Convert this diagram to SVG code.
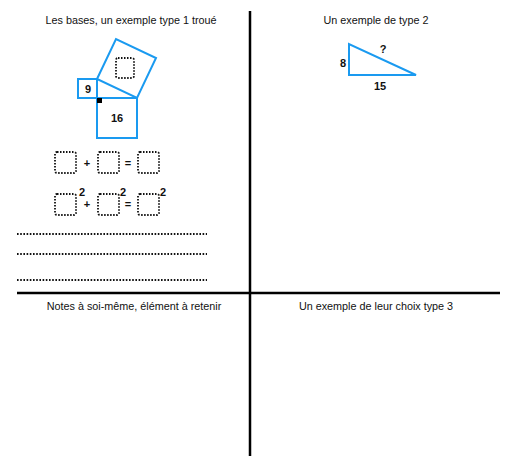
<svg xmlns="http://www.w3.org/2000/svg" width="512" height="456" viewBox="0 0 512 456">
<style>
.t{font-family:"Liberation Sans",Arial,sans-serif;font-size:10.8px;fill:#111;text-anchor:middle}
.b{font-family:"Liberation Sans",Arial,sans-serif;font-size:11px;font-weight:bold;fill:#111;text-anchor:middle}
.blue{fill:none;stroke:#1a9af0;stroke-width:2}
.dot{fill:none;stroke:#111;stroke-width:1.8;stroke-dasharray:1.5 1.5}
.dl{stroke:#111;stroke-width:2;stroke-dasharray:1.6 1.6}
.grid{stroke:#000;stroke-width:2.5}
</style>
<g id="grid">
<line class="grid" x1="250" y1="11" x2="250" y2="456"/>
<line class="grid" x1="17" y1="293" x2="500" y2="293"/>
</g>
<g id="titles">
<text class="t" x="131" y="24">Les bases, un exemple type 1 troué</text>
<text class="t" x="376" y="24">Un exemple de type 2</text>
<text class="t" x="134" y="310">Notes à soi-même, élément à retenir</text>
<text class="t" x="376" y="310">Un exemple de leur choix type 3</text>
</g>
<g id="pythagore">
<rect class="blue" x="78" y="79" width="19" height="19"/>
<rect class="blue" x="97" y="98" width="40" height="40"/>
<polygon class="blue" points="97,79 116,39 156,58 137,98"/>
<rect x="97" y="98" width="5" height="5" fill="#000"/>
<rect class="dot" x="116" y="58" width="18" height="20" rx="2"/>
<text class="b" x="88" y="93">9</text>
<text class="b" x="117" y="122">16</text>
</g>
<g id="equation1">
<rect class="dot" x="55" y="152" width="21" height="21" rx="2"/>
<text class="b" x="87" y="167">+</text>
<rect class="dot" x="98" y="152" width="21" height="21" rx="2"/>
<text class="b" x="128" y="167">=</text>
<rect class="dot" x="138" y="152" width="21" height="21" rx="2"/>
</g>
<g id="equation2">
<rect class="dot" x="55" y="194" width="21" height="21" rx="2"/>
<text class="b" x="82" y="196">2</text>
<text class="b" x="87" y="208">+</text>
<rect class="dot" x="98" y="194" width="21" height="21" rx="2"/>
<text class="b" x="123" y="196">2</text>
<text class="b" x="128" y="208">=</text>
<rect class="dot" x="138" y="194" width="21" height="21" rx="2"/>
<text class="b" x="163" y="196">2</text>
</g>
<g id="lines">
<line class="dl" x1="17" y1="234" x2="207" y2="234"/>
<line class="dl" x1="17" y1="254" x2="207" y2="254"/>
<line class="dl" x1="17" y1="280" x2="207" y2="280"/>
</g>
<g id="triangle">
<polygon class="blue" points="349,44 349,75 416,75"/>
<text class="b" x="343" y="67">8</text>
<text class="b" x="383" y="53">?</text>
<text class="b" x="380" y="90">15</text>
</g>
</svg>
